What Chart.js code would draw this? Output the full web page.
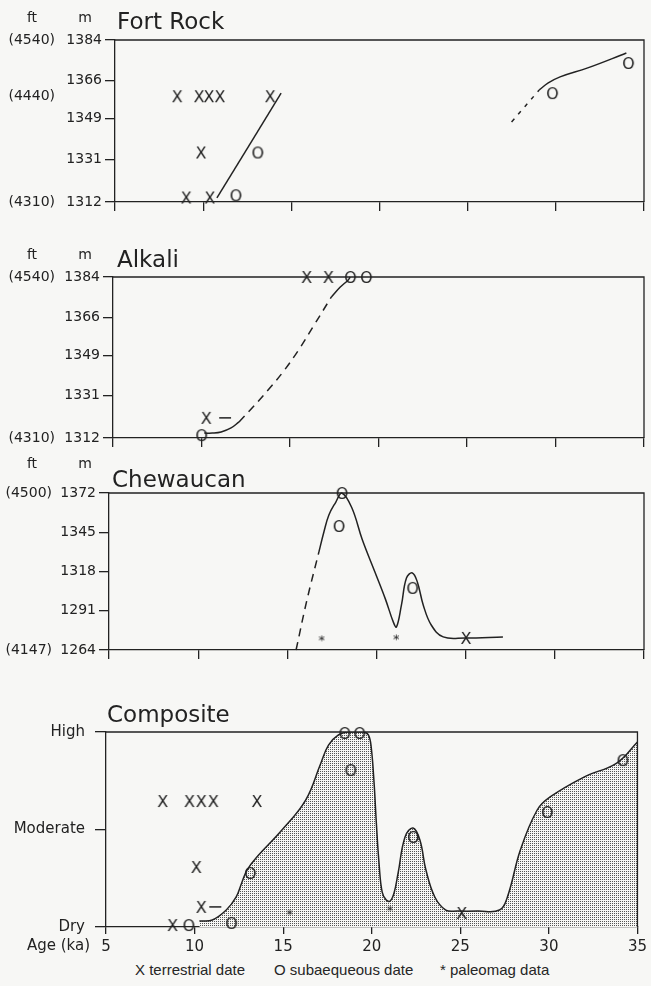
<!DOCTYPE html>
<html>
<head>
<meta charset="utf-8">
<script src="https://cdn.jsdelivr.net/npm/chart.js@4.4.1/dist/chart.umd.min.js"></script>
<style>
  body { margin: 0; background: #f7f7f5; width: 651px; height: 986px; position: relative; overflow: hidden; }
  canvas { position: absolute; left: 0; }
  .leg { position: absolute; top: 961px; font: 15px "Liberation Sans", Arial, sans-serif; color: #262626; white-space: pre; }
</style>
</head>
<body>
<canvas id="fortRock" width="651" height="230" style="top:0px"></canvas>
<canvas id="alkali" width="651" height="220" style="top:230px"></canvas>
<canvas id="chewaucan" width="651" height="215" style="top:450px"></canvas>
<canvas id="composite" width="651" height="295" style="top:665px"></canvas>
<div class="leg" style="left:135px">X terrestrial date</div>
<div class="leg" style="left:274px">O subaequeous date</div>
<div class="leg" style="left:440px">* paleomag data</div>
<script>
// age axis (ka)
const ageTicks = [5, 10, 15, 20, 25, 30, 35];

// Fort Rock (elevation, m)
const frElevTicks = [1312, 1331, 1349, 1366, 1384];
const frTerrAge = [8.53, 9.77, 10.33, 10.95, 13.8, 9.88, 9.04, 10.38];
const frTerrElev = [1359, 1359, 1359, 1359, 1359, 1334, 1314, 1314];
const frSubAge = [11.84, 13.08, 29.79, 34.1];
const frSubElev = [1315, 1334, 1360.4, 1373.8];
const frLineAge = [10.78, 14.42];
const frLineElev = [1313.8, 1360.4];
const frDashAge = [27.49, 29.06];
const frDashElev = [1347.6, 1361.8];
const frLine2Age = [29.06, 29.57, 30.24, 31.81, 34.0];
const frLine2Elev = [1361.8, 1364.9, 1367.6, 1371.6, 1378.2];

// Alkali
const akElevTicks = [1312, 1331, 1349, 1366, 1384];
const akTerrAge = [10.27, 15.94, 17.17];
const akTerrElev = [1321, 1384, 1384];
const akSubAge = [9.99, 18.4, 19.3];
const akSubElev = [1313.3, 1384, 1384];
const akTickAge = [11.0, 11.67];
const akTickElev = [1321, 1321];
const akLineAge = [10.16, 10.61, 11.11, 11.67, 12.12];
const akLineElev = [1314.2, 1314.2, 1314.7, 1316.5, 1319.2];
const akDashAge = [12.12, 12.96, 13.81, 14.65, 15.49, 16.33, 17.34];
const akDashElev = [1319.2, 1326.3, 1333.9, 1342.0, 1351.4, 1362.1, 1375.1];
const akTopAge = [17.34, 17.84, 18.29, 18.4];
const akTopElev = [1375.1, 1379.5, 1382.7, 1384];

// Chewaucan
const chElevTicks = [1264, 1291, 1318, 1345, 1372];
const chTerrAge = [25.02];
const chTerrElev = [1272.3];
const chSubAge = [18.05, 17.88, 22.01];
const chSubElev = [1372, 1349.3, 1306.7];
const chMagAge = [16.94, 21.12];
const chMagElev = [1272.3, 1273];
const chDashAge = [15.49, 16.1, 16.77];
const chDashElev = [1264, 1298.4, 1331.4];
const chLineAge = [16.77, 17.05, 17.33, 17.72, 18.05, 18.61, 19.2, 19.9, 20.5, 20.95, 21.12, 21.4, 21.68, 22.01, 22.29, 22.62, 23.07, 23.74, 24.97, 27.09];
const chLineElev = [1331.4, 1345.2, 1356.9, 1365.8, 1372, 1362, 1340, 1318, 1299, 1283, 1279.8, 1295.0, 1313.5, 1317.0, 1310.8, 1295.0, 1281.2, 1273.0, 1272.3, 1273.0];

// Composite (0 = Dry, 5 = Moderate, 10 = High)
const cpLevelTicks = [0, 5, 10];
const cpLevelNames = ['Dry', 'Moderate', 'High'];
const cpTerrAge = [8.2, 9.71, 10.38, 11.06, 13.52, 10.1, 10.38, 8.76, 25.08];
const cpTerrLevel = [6.46, 6.46, 6.46, 6.46, 6.46, 3.08, 1.03, 0.1, 0.72];
const cpSubAge = [9.66, 12.07, 13.13, 18.46, 19.3, 18.8, 22.33, 29.9, 34.16];
const cpSubLevel = [0.1, 0.21, 2.77, 9.95, 9.95, 8.05, 4.62, 5.9, 8.56];
const cpMagAge = [15.38, 21.04];
const cpMagLevel = [0.77, 0.97];
const cpTickAge = [10.83, 11.51];
const cpTickLevel = [1.03, 1.03];
const cpCurveAge = [10.27, 11.0, 11.79, 12.35, 12.68, 12.96, 13.47, 14.93, 16.27, 17.11, 17.56, 18.12, 18.68, 19.53, 19.81, 19.97, 20.14, 20.26, 20.42, 20.59, 20.82, 21.04, 21.26, 21.49, 21.88, 22.33, 22.72, 23.06, 23.56, 24.18, 24.85, 25.98, 27.21, 27.66, 28.39, 29.34, 30.07, 31.98, 33.83, 35];
const cpCurveLevel = [0.31, 0.36, 0.87, 1.54, 2.31, 2.92, 3.54, 4.97, 6.51, 8.36, 9.33, 9.85, 10, 10, 9.85, 9.23, 7.28, 5.33, 3.18, 1.79, 1.38, 1.33, 1.74, 2.77, 4.62, 5.08, 4.46, 2.92, 1.54, 0.87, 0.82, 0.82, 0.87, 1.54, 3.95, 6.0, 6.67, 7.69, 8.41, 9.49];

const INK = '#222';
const PAPER = '#f7f7f5';
Chart.defaults.font.family = '"DejaVu Sans"';
Chart.defaults.color = INK;

const zip = (xs, ys) => xs.map((x, i) => ({ x: x, y: ys[i] }));

// letter markers, drawn like the typed symbols in the figure
function glyph(ch, px) {
  const c = document.createElement('canvas');
  c.width = c.height = Math.ceil(px * 1.1);
  const g = c.getContext('2d');
  g.font = px + 'px "DejaVu Sans"';
  g.fillStyle = INK;
  const m = g.measureText(ch);
  const w = m.actualBoundingBoxLeft + m.actualBoundingBoxRight;
  const h = m.actualBoundingBoxAscent + m.actualBoundingBoxDescent;
  g.fillText(ch, (c.width - w) / 2 + m.actualBoundingBoxLeft, (c.height - h) / 2 + m.actualBoundingBoxAscent);
  return c;
}
const markX = glyph('X', 16);
const markO = glyph('O', 16);
const markStar = glyph('*', 13);

function points(xs, ys, mark) {
  return { data: zip(xs, ys), pointStyle: mark, pointRadius: 6, showLine: false, clip: false, order: 0 };
}
function line(xs, ys, dash) {
  return {
    data: zip(xs, ys), showLine: true, pointRadius: 0, borderColor: INK, borderWidth: 1.5,
    borderDash: dash || [], tension: 0.4, clip: false, order: 1
  };
}

const decor = {
  id: 'decor',
  afterDraw(chart, args, o) {
    const { ctx, chartArea: a } = chart;
    ctx.save();
    ctx.strokeStyle = INK;
    ctx.lineWidth = 1.3;
    ctx.beginPath();
    ctx.moveTo(a.left, a.top);
    ctx.lineTo(a.right, a.top);
    ctx.lineTo(a.right, a.bottom);
    ctx.stroke();
    ctx.fillStyle = INK;
    ctx.textBaseline = 'alphabetic';
    ctx.textAlign = 'left';
    ctx.font = '23px "DejaVu Sans"';
    ctx.fillText(o.title, o.titleX, o.titleY);
    if (o.headerY) {
      ctx.font = '14px "DejaVu Sans"';
      ctx.textAlign = 'center';
      ctx.fillText('ft', 32, o.headerY);
      ctx.fillText('m', 85, o.headerY);
    }
    if (o.ft) {
      ctx.font = '14px "DejaVu Sans"';
      ctx.textAlign = 'right';
      ctx.textBaseline = 'middle';
      o.ft.forEach(f => ctx.fillText(f[0], o.ftRight, chart.scales.y.getPixelForValue(f[1])));
    }
    if (o.ageLabel) {
      ctx.font = '15px "DejaVu Sans"';
      ctx.textAlign = 'right';
      ctx.textBaseline = 'middle';
      ctx.fillText(o.ageLabel, 90, o.ageLabelY);
    }
    ctx.restore();
  }
};

function panel(id, p) {
  const canvas = document.getElementById(id);
  const W = canvas.width, H = canvas.height;
  return new Chart(canvas, {
    type: 'scatter',
    data: { datasets: p.datasets },
    options: {
      responsive: false,
      animation: false,
      events: [],
      layout: { padding: { top: p.area[1], right: W - p.area[2], left: 0, bottom: 0 } },
      plugins: { legend: { display: false }, tooltip: { enabled: false }, decor: p.decor },
      scales: {
        x: {
          type: 'linear', min: 5, max: 35,
          afterBuildTicks: s => { s.ticks = ageTicks.map(v => ({ value: v })); },
          afterFit: s => { s.height = H - p.area[3]; },
          grid: { drawOnChartArea: false, color: INK, lineWidth: 1.3, tickLength: p.xTick },
          border: { color: INK, width: 1.3 },
          ticks: { display: !!p.showAge, font: { size: 15 }, padding: 4, maxRotation: 0, color: INK }
        },
        y: {
          min: p.yMin, max: p.yMax,
          afterBuildTicks: s => { s.ticks = p.yTicks.map(v => ({ value: v })); },
          afterFit: s => { s.width = p.area[0]; },
          grid: { drawOnChartArea: false, color: INK, lineWidth: 1.3, tickLength: p.yTick },
          border: { color: INK, width: 1.3 },
          ticks: { font: { size: p.yFont }, padding: p.yPad, color: INK, callback: p.yLabel || (v => v) }
        }
      }
    },
    plugins: [decor]
  });
}

panel('fortRock', {
  area: [115, 40, 650, 202], yMin: 1312, yMax: 1384, yTicks: frElevTicks, xTick: 9, yTick: 10, yFont: 14, yPad: 3,
  decor: { title: 'Fort Rock', titleX: 117, titleY: 29, headerY: 22, ftRight: 55,
    ft: [['(4540)', 1384], ['(4440)', 1359], ['(4310)', 1312]] },
  datasets: [
    points(frTerrAge, frTerrElev, markX), points(frSubAge, frSubElev, markO),
    line(frLineAge, frLineElev), line(frDashAge, frDashElev, [4, 6]), line(frLine2Age, frLine2Elev)
  ]
});

panel('alkali', {
  area: [113, 47, 648, 208], yMin: 1312, yMax: 1384, yTicks: akElevTicks, xTick: 9, yTick: 10, yFont: 14, yPad: 3,
  decor: { title: 'Alkali', titleX: 117, titleY: 37, headerY: 29, ftRight: 55,
    ft: [['(4540)', 1384], ['(4310)', 1312]] },
  datasets: [
    points(akTerrAge, akTerrElev, markX), points(akSubAge, akSubElev, markO),
    line(akLineAge, akLineElev), line(akDashAge, akDashElev, [8, 6]), line(akTopAge, akTopElev),
    line(akTickAge, akTickElev)
  ]
});

panel('chewaucan', {
  area: [109, 43, 647, 200], yMin: 1264, yMax: 1372, yTicks: chElevTicks, xTick: 9, yTick: 10, yFont: 14, yPad: 3,
  decor: { title: 'Chewaucan', titleX: 112, titleY: 37, headerY: 18, ftRight: 52,
    ft: [['(4500)', 1372], ['(4147)', 1264]] },
  datasets: [
    points(chTerrAge, chTerrElev, markX), points(chSubAge, chSubElev, markO), points(chMagAge, chMagElev, markStar),
    line(chDashAge, chDashElev, [8, 6]), line(chLineAge, chLineElev)
  ]
});

// stipple fill under the composite curve
const compCtx = document.getElementById('composite').getContext('2d');
const tile = document.createElement('canvas');
tile.width = tile.height = 2;
const tg = tile.getContext('2d');
tg.fillStyle = PAPER;
tg.fillRect(0, 0, 2, 2);
tg.fillStyle = '#555';
tg.fillRect(0, 0, 1, 1);
const stipple = compCtx.createPattern(tile, 'repeat');

const compositeCurve = line(cpCurveAge, cpCurveLevel);
compositeCurve.fill = 'origin';
compositeCurve.backgroundColor = stipple;
compositeCurve.clip = 0;
compositeCurve.order = 2;

panel('composite', {
  area: [106, 67, 641, 262], yMin: 0, yMax: 10, yTicks: cpLevelTicks, xTick: 7, yTick: 11, yFont: 15, yPad: 10,
  yLabel: v => cpLevelNames[cpLevelTicks.indexOf(v)],
  showAge: true,
  decor: { title: 'Composite', titleX: 107, titleY: 57, ageLabel: 'Age (ka)', ageLabelY: 281 },
  datasets: [
    points(cpTerrAge, cpTerrLevel, markX), points(cpSubAge, cpSubLevel, markO), points(cpMagAge, cpMagLevel, markStar),
    compositeCurve, line(cpTickAge, cpTickLevel)
  ]
});
</script>
</body>
</html>
